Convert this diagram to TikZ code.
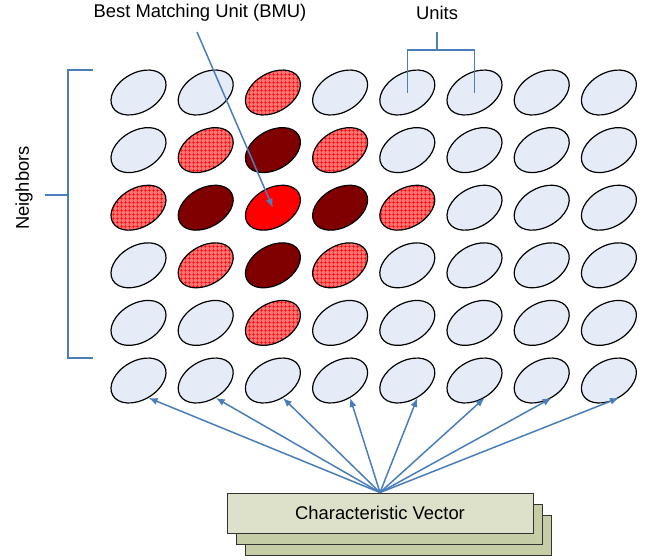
\documentclass[tikz,border=0pt]{standalone}
\usepackage{fontspec}
\setmainfont{Liberation Sans}
\usetikzlibrary{shapes.geometric,patterns.meta,arrows.meta}
\definecolor{unitfill}{RGB}{230,236,247}
\definecolor{wireblue}{RGB}{74,126,187}
\definecolor{darkred}{RGB}{128,0,0}
\definecolor{boxfront}{RGB}{221,225,201}
\definecolor{boxback}{RGB}{197,205,166}
\tikzdeclarepattern{
  name=redgrid,
  type=uncolored,
  bounding box={(0pt,0pt) and (2pt,2pt)},
  tile size={(2pt,2pt)},
  code={\draw[line width=0.45pt] (0pt,1pt) -- (2pt,1pt) (1pt,0pt) -- (1pt,2pt);}
}
\tikzset{
  every unit/.style={ellipse,draw=black,line width=0.6pt,inner sep=0pt,
    minimum width=29.7pt,minimum height=19.5pt,rotate=30},
  idle/.style={every unit,fill=unitfill},
  hatched/.style={every unit,preaction={fill=red!55!white},pattern=redgrid,pattern color=red},
  dark/.style={every unit,fill=darkred},
  bmu/.style={every unit,fill=red},
  wire/.style={draw=wireblue,line width=0.75pt},
  tip/.style={-{Latex[length=4.5pt,width=3.6pt]}},
  cvbox/.style={draw=black!80,line width=0.5pt,minimum width=153pt,minimum height=20pt,inner sep=0pt}
}
\begin{document}
\begin{tikzpicture}[x=0.5pt,y=-0.5pt,font=\fontsize{9.2}{11}\selectfont]
\useasboundingbox (0,0) rectangle (647,559);
% grid of units
\foreach \row [count=\r] in {
  {idle,idle,hatched,idle,idle,idle,idle,idle},
  {idle,hatched,dark,hatched,idle,idle,idle,idle},
  {hatched,dark,bmu,dark,hatched,idle,idle,idle},
  {idle,hatched,dark,hatched,idle,idle,idle,idle},
  {idle,idle,hatched,idle,idle,idle,idle,idle},
  {idle,idle,idle,idle,idle,idle,idle,idle}}
  \foreach \s [count=\c] in \row
    \node[\s] (u-\r-\c) at ({138.5+67.2*(\c-1)},{92.5+57.6*(\r-1)}) {};
% characteristic vector stack
\node[cvbox,fill=boxback] (cv3) at (398,535) {};
\node[cvbox,fill=boxback] (cv2) at (389,524) {};
\node[cvbox,fill=boxfront] (cv) at (380,513) {Characteristic Vector};
\foreach \c in {1,...,8}
  \draw[wire,tip] (cv.north) -- (u-6-\c.south);
% labels
\node (bmulabel) at (200,13) {Best Matching Unit (BMU)};
\coordinate (bmu-tail) at (197,32);
\draw[wire,tip] (bmu-tail) -- (u-3-3.center);
\node (unitslabel) at (437,13) {Units};
\coordinate (units-top) at (437,32);
\draw[wire] (units-top) -- ++(0,18) coordinate (units-mid);
\draw[wire] (u-1-5.center) |- (units-mid) -| (u-1-6.center);
\node[rotate=90] (neighbors) at (24,188) {Neighbors};
\coordinate (nb-top) at (93,70);
\coordinate (nb-bot) at (93,358);
\coordinate (nb-tick) at (45,195);
\draw[wire] (nb-top) -- (68,70) -- (68,358) -- (nb-bot);
\draw[wire] (nb-tick) -- (68,195);
\end{tikzpicture}
\end{document}
